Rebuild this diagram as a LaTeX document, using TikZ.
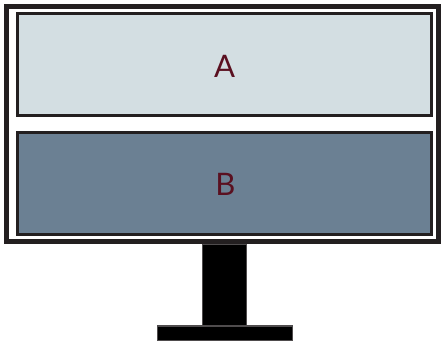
\documentclass[tikz,border=0pt]{standalone}
\usepackage{fontspec}
\setmainfont{Lato}
\definecolor{frame}{HTML}{231F20}
\definecolor{afill}{HTML}{D3DEE2}
\definecolor{bfill}{HTML}{6B8093}
\definecolor{txt}{HTML}{5A1020}
\begin{document}
\begin{tikzpicture}[x=1pt,y=-1pt,
  panel/.style={draw=frame,line width=3pt},
  lbl/.style={text=txt,inner sep=0pt,font=\fontsize{31}{36}\selectfont},
  standpart/.style={fill=black,draw=frame!80,line width=1.2pt}]
\useasboundingbox (0,0) rectangle (442,343);
\draw[draw=frame,line width=5pt] (6.5,6.5) rectangle (438.5,241.5);
\draw[panel,fill=afill] (17.5,13.5) rectangle (431.5,115.5);
\draw[panel,fill=bfill] (17.5,132.5) rectangle (431.5,234.5);
\node[lbl] (a) at (224.5,66.5) {A};
\node[lbl] (b) at (225.5,184) {B};
\draw[standpart] (202.5,244.5) rectangle (246.5,326);
\draw[standpart] (157.5,326) rectangle (292.5,340.5);
\end{tikzpicture}
\end{document}
